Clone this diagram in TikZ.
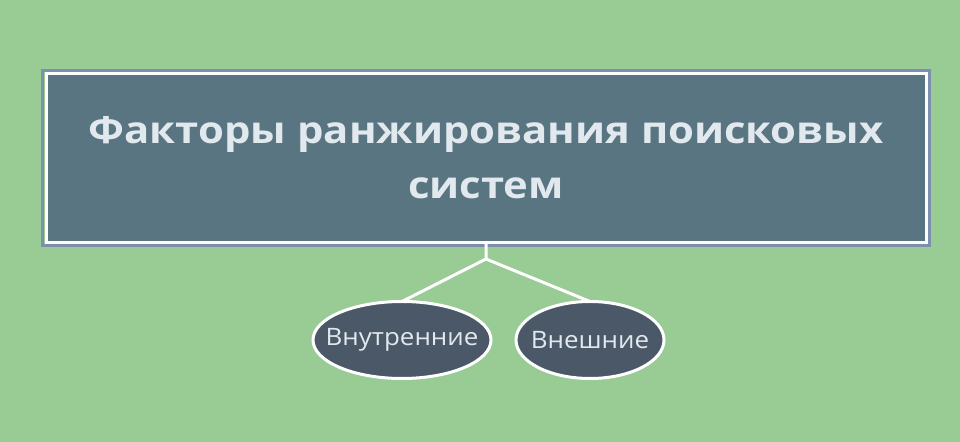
\documentclass[tikz,border=0pt]{standalone}
\usepackage{fontspec}
\setmainfont{Open Sans}
\newfontfamily\titlefont[FakeStretch=1.12]{Open Sans}
\newfontfamily\ovalfont[FakeStretch=1.08]{Open Sans}
\usetikzlibrary{shapes.geometric}
\definecolor{bggreen}{HTML}{99CB95}
\definecolor{boxslate}{HTML}{587581}
\definecolor{framegrey}{HTML}{7C90AE}
\definecolor{ovalslate}{HTML}{4A5867}
\definecolor{titletext}{HTML}{E2E9EE}
\begin{document}
\begin{tikzpicture}[x=0.75pt,y=0.75pt,
	titlebox/.style={draw=white, line width=2.25pt, fill=boxslate, outer sep=0pt, inner sep=0pt,
		minimum width=660pt, minimum height=126.75pt, align=center, text=titletext,
		font=\titlefont\bfseries\fontsize{28}{41}\selectfont},
	factor/.style={ellipse, draw=white, line width=2.25pt, fill=ovalslate, outer sep=0pt, inner sep=0pt,
		minimum height=57.75pt},
	factorlabel/.style={text=titletext, inner sep=0pt, font=\ovalfont\fontsize{18}{20}\selectfont},
	branch/.style={draw=white, line width=2.25pt}]
	% background
	\fill[bggreen] (0,0) rectangle (960,442);
	% title box
	\node[titlebox] (title) at (486,284) {Факторы ранжирования поисковых\\систем};
	\draw[framegrey, line width=2.6pt] ([shift={(-3.25,-3.25)}]title.south west) rectangle ([shift={(3.25,3.25)}]title.north east);
	% factors
	\node[factor, minimum width=133.5pt] (inner) at (402,102) {};
	\node[factor, minimum width=111pt] (outer) at (590,102) {};
	\node[factorlabel] (innerlabel) at (inner) {Внутренние};
	\node[factorlabel] (outerlabel) at (outer) {Внешние};
	\coordinate (fork) at (486,183);
	\draw[branch] (title.south) -- (fork) -- (inner.north);
	\draw[branch] (fork) -- (outer.north);
\end{tikzpicture}
\end{document}
